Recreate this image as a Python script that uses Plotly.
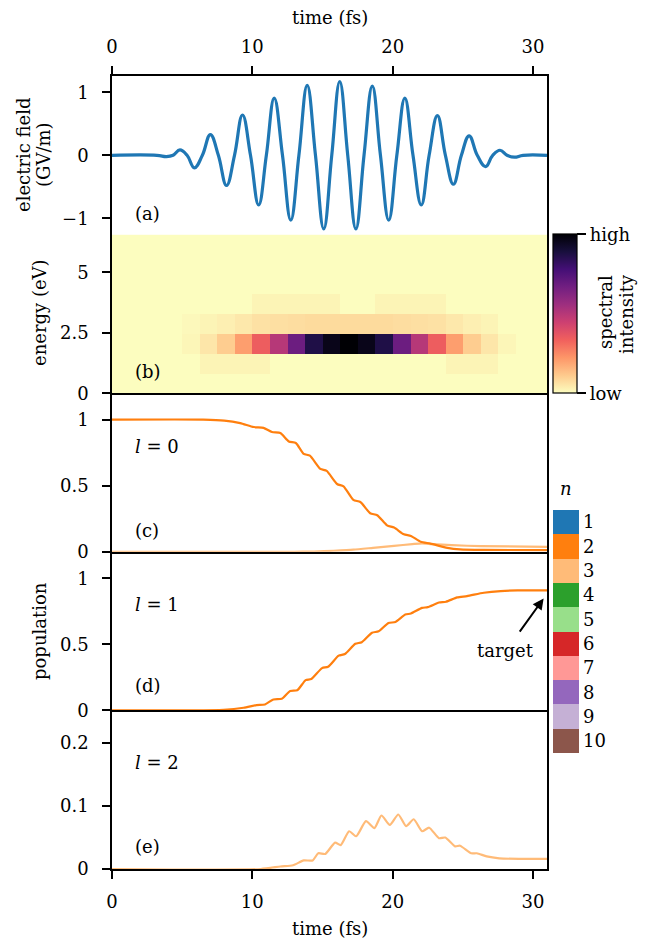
import plotly.graph_objects as go

# ---------------- data ----------------
# (a) electric field (GV/m) read at extrema / zero crossings
field_time = [0.0, 3.2, 3.87, 4.35, 4.84, 5.35, 5.87, 6.44, 7.01, 7.58, 8.16, 8.73,
              9.30, 9.87, 10.45, 11.0, 11.56, 12.15, 12.74, 13.32, 13.91, 14.5,
              15.09, 15.66, 16.23, 16.8, 17.38, 17.96, 18.55, 19.13, 19.72, 20.3,
              20.87, 21.45, 22.04, 22.6, 23.19, 23.76, 24.33, 24.9, 25.45, 26.03,
              26.62, 27.13, 27.65, 28.15, 28.68, 29.3, 31.0]
field_value = [0.0, 0.0, -0.02, 0.0, 0.085, 0.0, -0.2, 0.0, 0.33, 0.0, -0.48, 0.0,
               0.64, 0.0, -0.79, 0.0, 0.91, 0.0, -1.03, 0.0, 1.11, 0.0,
               -1.17, 0.0, 1.17, 0.0, -1.17, 0.0, 1.10, 0.0, -1.03, 0.0,
               0.91, 0.0, -0.79, 0.0, 0.63, 0.0, -0.46, 0.0, 0.31, 0.0,
               -0.18, 0.0, 0.08, 0.0, -0.03, 0.0, 0.0]

# (b) spectrogram: time-bin centres (fs), energy-bin centres (eV), normalised intensity
spec_time = [0.625, 1.875, 3.125, 4.375, 5.625, 6.875, 8.125, 9.375, 10.625, 11.875,
             13.125, 14.375, 15.625, 16.875, 18.125, 19.375, 20.625, 21.875, 23.125,
             24.375, 25.625, 26.875, 28.125, 29.375, 30.625]
spec_energy = [0.41, 1.23, 2.05, 2.87, 3.69, 4.51, 5.33, 6.15]
spec_row_0 = [0] * 25
spec_row_1 = [0, 0, 0, 0, 0, 0.02, 0.02, 0.02, 0.02, 0, 0, 0, 0, 0, 0, 0, 0, 0, 0,
              0.02, 0.02, 0.02, 0, 0, 0]
spec_row_2 = [0, 0, 0, 0, 0.015, 0.05, 0.105, 0.205, 0.345, 0.50, 0.68, 0.87, 0.96,
              1.0, 0.96, 0.87, 0.68, 0.50, 0.345, 0.205, 0.105, 0.05, 0.015, 0, 0]
spec_row_3 = [0, 0, 0, 0, 0.01, 0.02, 0.03, 0.045, 0.06, 0.065, 0.07, 0.075, 0.075,
              0.075, 0.075, 0.075, 0.07, 0.065, 0.06, 0.045, 0.03, 0.02, 0, 0, 0]
spec_row_4 = [0, 0, 0, 0, 0, 0, 0, 0, 0.02, 0.02, 0.02, 0.02, 0.02, 0, 0,
              0.02, 0.02, 0.02, 0.02, 0, 0, 0, 0, 0, 0]
spec_row_5 = [0] * 25
spec_row_6 = [0] * 25
spec_row_7 = [0] * 25

# (c) l = 0 populations
l0_n2_time = [0, 6.5, 8.0, 9.14, 10.1, 10.8, 11.4, 12.0, 12.6, 13.1, 13.66, 14.1, 14.85,
              15.3, 16.04, 16.5, 17.2, 17.7, 18.4, 18.9, 19.6, 20.1, 20.8, 21.3, 22.0,
              22.7, 23.9, 24.8, 26.5, 31]
l0_n2_pop = [1.0, 1.0, 0.993, 0.974, 0.944, 0.938, 0.906, 0.898, 0.835, 0.823, 0.741,
             0.727, 0.627, 0.612, 0.513, 0.495, 0.393, 0.377, 0.292, 0.277, 0.2, 0.183,
             0.132, 0.12, 0.076, 0.062, 0.03, 0.018, 0.014, 0.013]
l0_n3_time = [0, 13.0, 14.4, 15.8, 17.2, 18.6, 20.1, 21.4, 22.1, 22.8, 24.2, 26.3, 31]
l0_n3_pop = [0, 0, 0.002, 0.008, 0.016, 0.03, 0.045, 0.058, 0.064, 0.058, 0.05, 0.043, 0.037]

# (d) l = 1 populations
l1_n2_time = [0, 7.96, 9.38, 10.3, 10.9, 11.5, 12.1, 12.7, 13.2, 13.8, 14.2, 14.97, 15.4,
              16.15, 16.6, 17.34, 17.8, 18.53, 19.0, 19.7, 20.2, 20.9, 21.3, 22.1, 22.5,
              23.3, 23.8, 24.6, 25.3, 26.5, 27.7, 28.9, 31]
l1_n2_pop = [0, 0.005, 0.02, 0.04, 0.045, 0.083, 0.088, 0.147, 0.152, 0.229, 0.237, 0.32,
             0.33, 0.414, 0.427, 0.504, 0.516, 0.588, 0.598, 0.661, 0.669, 0.725, 0.733,
             0.776, 0.781, 0.816, 0.822, 0.855, 0.865, 0.89, 0.903, 0.908, 0.908]

# (e) l = 2 populations
l2_n3_time = [0, 10.6, 12.0, 12.9, 13.66, 14.3, 14.7, 15.2, 15.9, 16.3, 16.9, 17.4, 18.1,
              18.7, 19.2, 19.8, 20.4, 20.96, 21.5, 22.1, 22.6, 23.3, 23.75, 24.45, 24.8,
              25.6, 26.0, 26.7, 27.6, 29.0, 31]
l2_n3_pop = [0, 0, 0.004, 0.006, 0.0136, 0.0136, 0.025, 0.024, 0.042, 0.038, 0.060, 0.052,
             0.076, 0.065, 0.085, 0.070, 0.0866, 0.068, 0.079, 0.06, 0.0656, 0.049, 0.050,
             0.036, 0.037, 0.025, 0.025, 0.02, 0.017, 0.016, 0.016]

# legend (principal quantum number n)
n_levels = [1, 2, 3, 4, 5, 6, 7, 8, 9, 10]
n_colors = ["#1f77b4", "#ff7f0e", "#ffbb78", "#2ca02c", "#98df8a",
            "#d62728", "#ff9896", "#9467bd", "#c5b0d5", "#8c564b"]

x_ticks = [0, 10, 20, 30]

# ---------------- figure ----------------
FONT = "DejaVu Serif"
FS = 18
W, H = 650, 939
ML, MR, MT, MB = 112, 103, 76, 70
PW, PH = W - ML - MR, H - MT - MB


def px_x(p):  # pixel -> paper x
    return (p - ML) / PW


def px_y(p):  # pixel -> paper y
    return (H - MB - p) / PH


col = dict(zip(n_levels, n_colors))
fig = go.Figure()

fig.add_trace(go.Scatter(x=field_time, y=field_value, mode="lines",
                         line=dict(color="#1f77b4", width=3.2, shape="spline", smoothing=1.2),
                         xaxis="x", yaxis="y", showlegend=False))

spec_z = [spec_row_0, spec_row_1, spec_row_2, spec_row_3,
          spec_row_4, spec_row_5, spec_row_6, spec_row_7]
fig.add_trace(go.Heatmap(x=spec_time, y=spec_energy, z=spec_z, colorscale="magma_r",
                         zmin=0, zmax=1, xaxis="x2", yaxis="y2",
                         colorbar=dict(x=1 + 6 / PW, xanchor="left", xpad=0,
                                       y=0.7, yanchor="middle", ypad=0,
                                       len=0.2, lenmode="fraction", thickness=24,
                                       outlinewidth=1.2, outlinecolor="black",
                                       tickvals=[0, 1], ticktext=["low", "high"],
                                       ticks="outside", ticklen=9, tickwidth=1.5,
                                       tickcolor="black",
                                       tickfont=dict(family=FONT, size=FS, color="black"))))

pop_lw = 2.2
fig.add_trace(go.Scatter(x=l0_n3_time, y=l0_n3_pop, mode="lines", xaxis="x3", yaxis="y3",
                         line=dict(color=col[3], width=pop_lw, shape="spline", smoothing=0.6),
                         showlegend=False))
fig.add_trace(go.Scatter(x=l0_n2_time, y=l0_n2_pop, mode="lines", xaxis="x3", yaxis="y3",
                         line=dict(color=col[2], width=pop_lw, shape="spline", smoothing=0.6),
                         showlegend=False))
fig.add_trace(go.Scatter(x=l1_n2_time, y=l1_n2_pop, mode="lines", xaxis="x4", yaxis="y4",
                         line=dict(color=col[2], width=pop_lw, shape="spline", smoothing=0.6),
                         showlegend=False))
fig.add_trace(go.Scatter(x=l2_n3_time, y=l2_n3_pop, mode="lines", xaxis="x5", yaxis="y5",
                         line=dict(color=col[3], width=pop_lw, shape="spline", smoothing=0.6),
                         showlegend=False))

# discrete colour key for n (drawn as a stepped colour bar)
nN = len(n_levels)
n_scale = []
for k in range(nN):
    c = n_colors[nN - 1 - k]
    n_scale.append([k / nN, c])
    n_scale.append([(k + 1) / nN, c])
fig.add_trace(go.Scatter(x=[None], y=[None], mode="markers", xaxis="x3", yaxis="y3",
                         showlegend=False, hoverinfo="skip",
                         marker=dict(color=[1], cmin=0.5, cmax=nN + 0.5, colorscale=n_scale,
                                     showscale=True,
                                     colorbar=dict(x=1 + 6 / PW, xanchor="left", xpad=0,
                                                   y=px_y(631.5), yanchor="middle", ypad=0,
                                                   len=243, lenmode="pixels", thickness=26,
                                                   outlinewidth=0, ticks="",
                                                   tickvals=[nN + 1 - n for n in n_levels],
                                                   ticktext=[str(n) for n in n_levels],
                                                   tickfont=dict(family=FONT, size=FS,
                                                                 color="black")))))

axis_common = dict(showline=True, linecolor="black", linewidth=1.5,
                   showgrid=False, zeroline=False, ticks="outside", ticklen=8,
                   tickwidth=1.5, tickcolor="black",
                   tickfont=dict(family=FONT, size=FS, color="black"))

xr = [0, 31]
YSO = 10
layout = dict(
    width=W, height=H, margin=dict(l=ML, r=MR, t=MT, b=MB),
    plot_bgcolor="white", paper_bgcolor="white",
    font=dict(family=FONT, size=FS, color="black"),
    xaxis=dict(axis_common, range=xr, domain=[0, 1], anchor="y", side="top",
               mirror=True, tickvals=x_ticks, ticklabelstandoff=6),
    xaxis2=dict(axis_common, range=xr, domain=[0, 1], anchor="y2", ticks="",
                showticklabels=False),
    xaxis3=dict(axis_common, range=xr, domain=[0, 1], anchor="y3", ticks="",
                showticklabels=False),
    xaxis4=dict(axis_common, range=xr, domain=[0, 1], anchor="y4", ticks="",
                showticklabels=False),
    xaxis5=dict(axis_common, range=xr, domain=[0, 1], anchor="y5", tickvals=x_ticks,
                ticklabelstandoff=8),
    yaxis=dict(axis_common, mirror=True, range=[-1.26, 1.26], domain=[0.8, 1.0],
               anchor="x", tickvals=[-1, 0, 1], ticklabelstandoff=YSO),
    yaxis2=dict(axis_common, mirror=True, range=[0, 6.56], domain=[0.6, 0.8], anchor="x2",
                tickvals=[0, 2.5, 5], ticktext=["0", "2.5", "5"], ticklabelstandoff=YSO),
    yaxis3=dict(axis_common, mirror=True, range=[0, 1.2], domain=[0.4, 0.6], anchor="x3",
                tickvals=[0, 0.5, 1], ticktext=["0", "0.5", "1"], ticklabelstandoff=YSO),
    yaxis4=dict(axis_common, mirror=True, range=[0, 1.2], domain=[0.2, 0.4], anchor="x4",
                tickvals=[0, 0.5, 1], ticktext=["0", "0.5", "1"], ticklabelstandoff=YSO),
    yaxis5=dict(axis_common, mirror=True, range=[0, 0.252], domain=[0.0, 0.2], anchor="x5",
                tickvals=[0, 0.1, 0.2], ticktext=["0", "0.1", "0.2"], ticklabelstandoff=YSO),
    showlegend=False,
)
fig.update_layout(**layout)

tf = dict(family=FONT, size=FS, color="black")
ann = []


def txt(x, y, s, xref="paper", yref="paper", angle=0, xanchor="center", yanchor="middle"):
    ann.append(dict(x=x, y=y, xref=xref, yref=yref, text=s, showarrow=False, font=tf,
                    textangle=angle, xanchor=xanchor, yanchor=yanchor))


# axis titles
txt(0.5, px_y(18), "time (fs)")
txt(0.5, px_y(928), "time (fs)")
txt(px_x(23), px_y(155), "electric field", angle=-90)
txt(px_x(43), px_y(155), "(GV/m)", angle=-90)
txt(px_x(39), px_y(313), "energy (eV)", angle=-90)
txt(px_x(39), px_y(631), "population", angle=-90)
# colour-bar texts
txt(px_x(605), px_y(312), "spectral", angle=-90)
txt(px_x(626), px_y(314), "intensity", angle=-90)
txt(px_x(566), px_y(488), "<i>n</i>")
# panel labels
txt(1.5, -0.92, "(a)", "x", "y", xanchor="left")
txt(1.5, 0.91, "(b)", "x2", "y2", xanchor="left")
txt(1.5, 0.16, "(c)", "x3", "y3", xanchor="left")
txt(1.5, 0.80, "<i>l</i> = 0", "x3", "y3", xanchor="left")
txt(1.5, 0.187, "(d)", "x4", "y4", xanchor="left")
txt(1.5, 0.80, "<i>l</i> = 1", "x4", "y4", xanchor="left")
txt(1.5, 0.0354, "(e)", "x5", "y5", xanchor="left")
txt(1.5, 0.170, "<i>l</i> = 2", "x5", "y5", xanchor="left")
txt(28.03, 0.457, "target", "x4", "y4")
# arrow to target
ann.append(dict(x=30.76, y=0.847, xref="x4", yref="y4", ax=28.98, ay=0.585,
                axref="x4", ayref="y4", text="", showarrow=True, arrowhead=2,
                arrowsize=1.1, arrowwidth=2, arrowcolor="black"))

fig.update_layout(annotations=ann)
fig.write_html("out.html", config={"displayModeBar": False},
               post_script="document.body.style.margin='0px';")
